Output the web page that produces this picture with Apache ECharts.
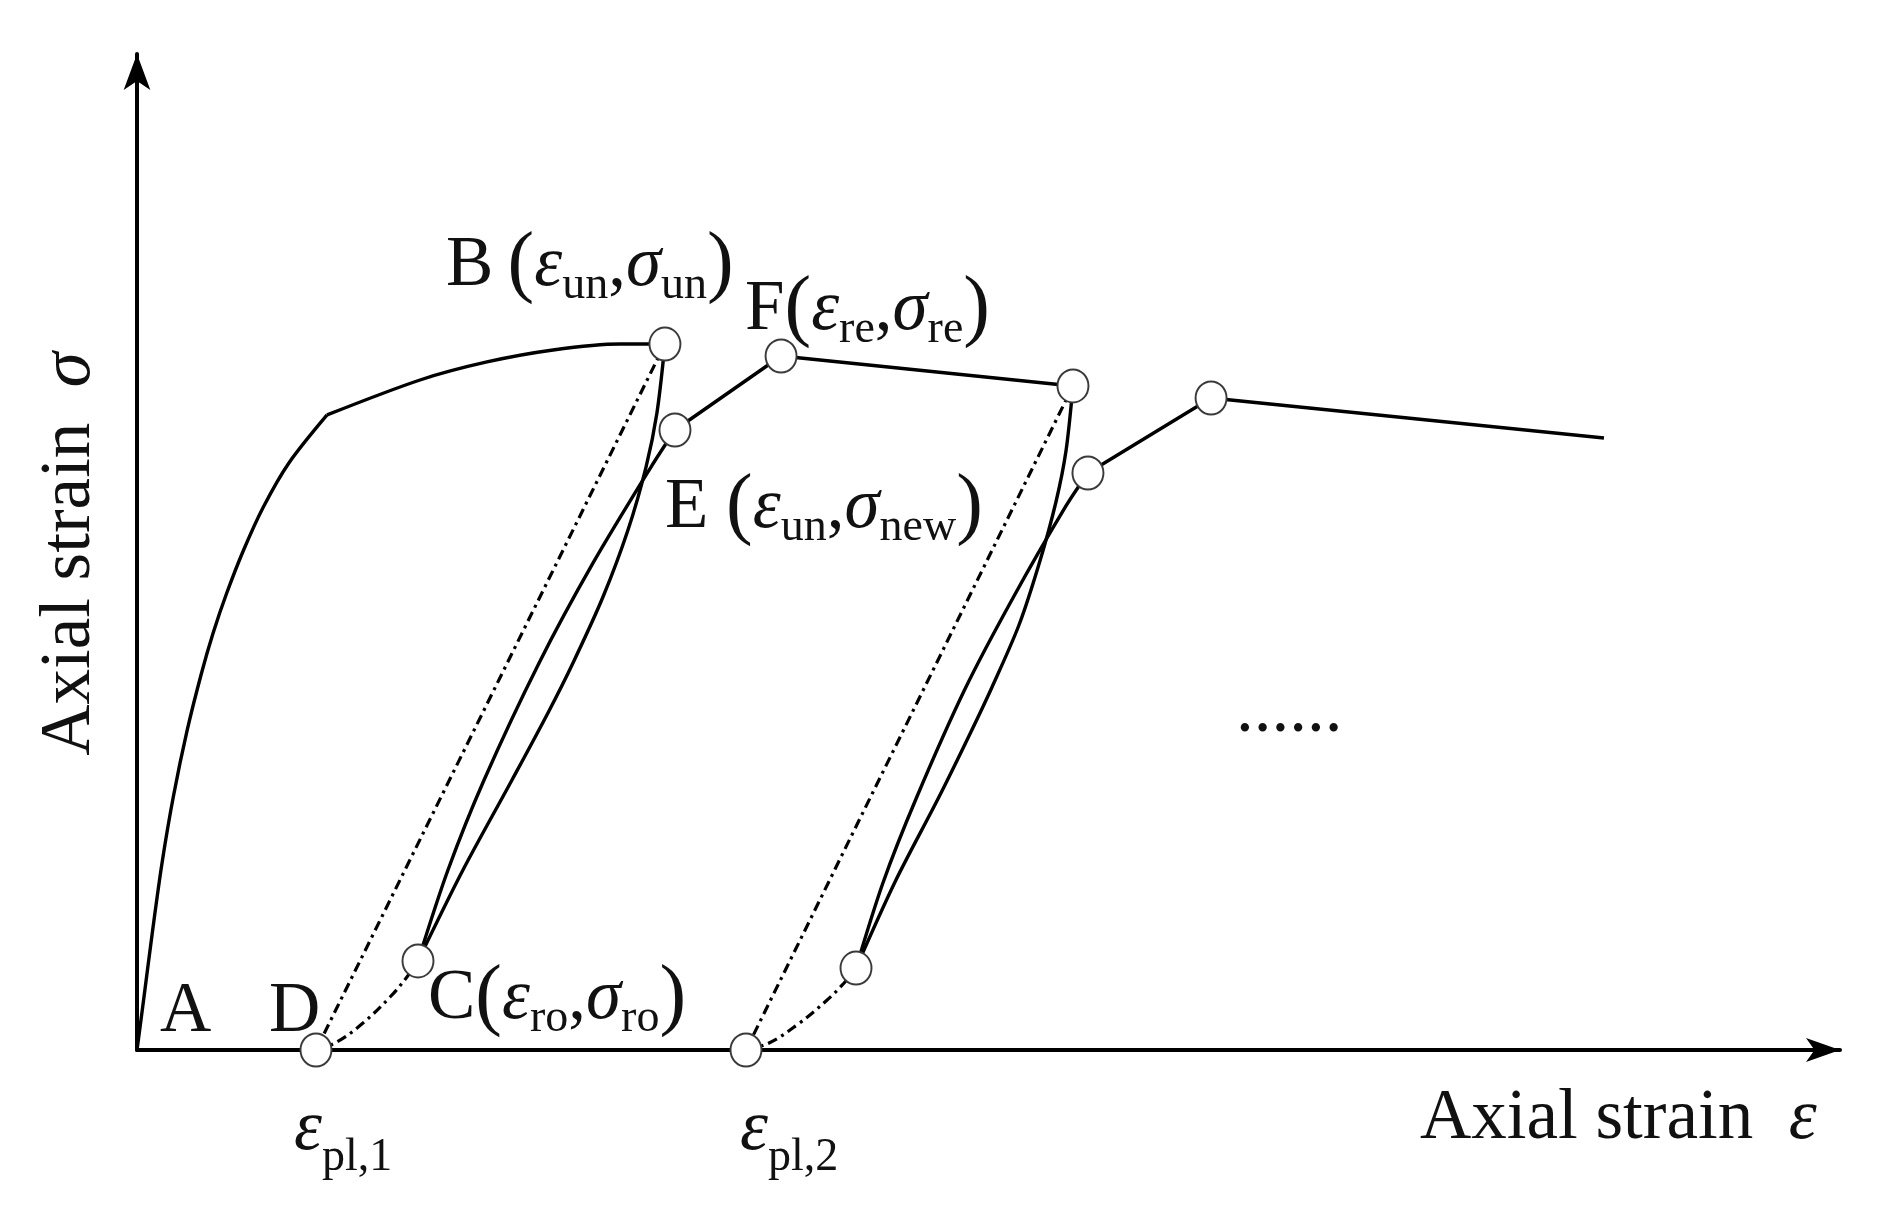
<!DOCTYPE html>
<html>
<head>
<meta charset="utf-8">
<script src="https://cdn.jsdelivr.net/npm/echarts@6/dist/echarts.min.js"></script>
<style>html,body{margin:0;padding:0;background:#fff}#c{width:1891px;height:1208px}</style>
</head>
<body>
<div id="c"></div>
<script>
// ---- data (strain, stress) read from the schematic, axes scaled 0..100 ----
const envelopeRise = [[0,0],[0.41,5.32],[0.92,12.05],[1.47,18.78],[2.13,25.40],[2.95,32.13],[3.79,37.85],[4.47,41.87],[5.27,45.88],[6.26,50.20],[7.42,54.52],[8.92,58.94],[11.16,63.76]];
const envelopeCap = [[11.16,63.76],[16.62,67.27],[20.55,69.08],[24.43,70.28],[28.36,70.88],[31.00,70.88]];
const unload1 = [[31.00,70.88],[30.53,63.96],[29.89,58.53],[28.83,52.21],[27.36,45.48],[25.60,38.86],[24.13,33.84],[22.02,27.11],[19.14,18.07],[16.50,8.94]];
const reload1 = [[16.50,8.94],[18.26,18.07],[20.38,27.11],[23.61,38.86],[26.78,48.90],[30.18,58.53],[31.59,62.25]];
const secant1 = [[31.00,70.88],[10.51,0]];
const toe1 = [[10.51,0],[11.74,0.80],[13.27,2.71],[14.86,5.32],[15.85,7.33],[16.50,8.94]];
const path1 = [[31.59,62.25],[37.82,69.68],[54.96,66.67]];
const unload2 = [[54.96,66.67],[54.55,60.14],[53.96,55.02],[53.02,49.10],[51.79,42.67],[50.21,36.45],[48.91,31.73],[47.09,25.40],[44.51,16.87],[42.22,8.23]];
const reload2 = [[42.22,8.23],[43.80,16.77],[45.74,25.20],[48.62,36.24],[51.50,45.58],[54.55,54.62],[55.84,57.93]];
const secant2 = [[54.96,66.67],[35.76,0]];
const toe2 = [[35.76,0],[37.11,0.70],[38.75,2.51],[40.46,4.92],[41.52,6.73],[42.22,8.23]];
const path2 = [[55.84,57.93],[63.07,65.46],[86.14,61.45]];
const keyPoints = [[31.00,70.88],[31.59,62.25],[37.82,69.68],[16.50,8.94],[10.51,0],[54.96,66.67],[55.84,57.93],[63.07,65.46],[42.22,8.23],[35.76,0]];

const labelB = '{m|B\u2009}{p|(}{i|ε}{s|un}{m|,}{i|σ}{s|un}{p|)}';
const labelF = '{m|F}{p|(}{i|ε}{s|re}{m|,}{i|σ}{s|re}{p|)}';
const labelE = '{m|E }{p|(}{i|ε}{s|un}{m|,}{i|σ}{s|new}{p|)}';
const labelC = '{m|C}{p|(}{i|ε}{s|ro}{m|,}{i|σ}{s|ro}{p|)}';
const labelPl1 = '{i2|ε}{s|pl,1}';
const labelPl2 = '{i2|ε}{s|pl,2}';
const xName = '{m|Axial strain  }{i|ε}';
const yName = '{m|Axial strain  }{i|σ}';

const serif = "'Liberation Serif','Times New Roman',serif";
const rich = {
  m: {fontFamily: serif, fontSize: 71, lineHeight: 86, verticalAlign: 'middle', fill: '#111'},
  i: {fontFamily: serif, fontStyle: 'italic', fontSize: 71, lineHeight: 86, verticalAlign: 'middle', fill: '#111'},
  i2: {fontFamily: serif, fontStyle: 'italic', fontSize: 71, lineHeight: 102, verticalAlign: 'middle', fill: '#111'},
  p: {fontFamily: serif, fontSize: 80, lineHeight: 86, verticalAlign: 'middle', fill: '#111'},
  s: {fontFamily: serif, fontSize: 46, lineHeight: 46, verticalAlign: 'bottom', fill: '#111'}
};

function solid(data, smooth) {
  return {type: 'line', data: data, smooth: smooth || false, symbol: 'none', silent: true,
    lineStyle: {color: '#000', width: 3.4}, z: 2};
}
function dashdot(data, smooth) {
  return {type: 'line', data: data, smooth: smooth || false, symbol: 'none', silent: true,
    lineStyle: {color: '#000', width: 3.2, type: [10, 5, 3, 5]}, z: 2};
}
function txt(text, x, y, extra) {
  return Object.assign({type: 'text', x: x, y: y, silent: true,
    style: {text: text, rich: rich, align: 'left', verticalAlign: 'top', fill: '#111',
      font: "71px " + serif}}, extra || {});
}

const chart = echarts.init(document.getElementById('c'), null, {renderer: 'canvas'});
chart.setOption({
  animation: false,
  backgroundColor: '#fff',
  grid: {left: 137, right: 51, top: 54, bottom: 158, containLabel: false},
  xAxis: {type: 'value', min: 0, max: 100, splitLine: {show: false}, axisTick: {show: false}, axisLabel: {show: false},
    axisLine: {show: true, onZero: false, symbol: ['none', 'arrow'], symbolSize: [18, 34], lineStyle: {color: '#000', width: 4}}},
  yAxis: {type: 'value', min: 0, max: 100, splitLine: {show: false}, axisTick: {show: false}, axisLabel: {show: false},
    axisLine: {show: true, onZero: false, symbol: ['none', 'arrow'], symbolSize: [20, 36], lineStyle: {color: '#000', width: 4}}},
  series: [
    solid(envelopeRise, 0.3),
    solid(envelopeCap, 0.3),
    solid(unload1, 0.3),
    solid(reload1, 0.3),
    dashdot(secant1),
    dashdot(toe1, 0.4),
    solid(path1),
    solid(unload2, 0.3),
    solid(reload2, 0.3),
    dashdot(secant2),
    dashdot(toe2, 0.4),
    solid(path2),
    {type: 'scatter', data: keyPoints, symbol: 'circle', symbolSize: [31, 33], silent: true, z: 10,
      itemStyle: {color: '#fff', opacity: 1, borderColor: '#3a3a3a', borderWidth: 2}}
  ],
  graphic: [
    txt(labelB, 446, 223),
    txt(labelF, 745, 267),
    txt(labelE, 665, 465),
    txt(labelC, 428, 956),
    txt('{m|A}', 160, 969),
    txt('{m|D}', 269, 969),
    txt(labelPl1, 294, 1079),
    txt(labelPl2, 740, 1079),
    txt(xName, 1420, 1076),
    txt('{m|......}', 1236, 669),
    {type: 'text', x: 70, y: 554, rotation: Math.PI / 2, silent: true,
      style: {text: yName, rich: rich, align: 'center', verticalAlign: 'middle', fill: '#111', font: '71px ' + serif}}
  ]
});
</script>
</body>
</html>
